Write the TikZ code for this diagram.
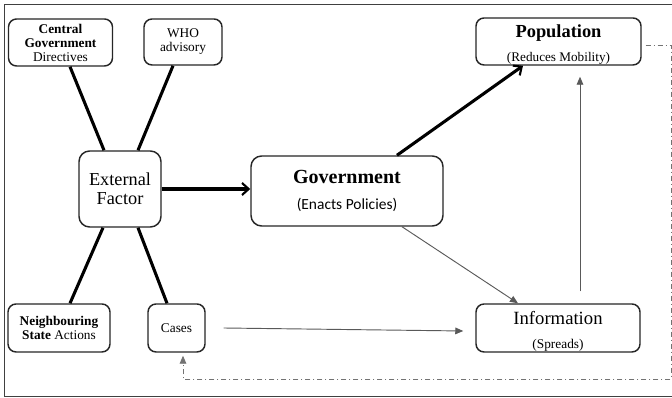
\documentclass[tikz,border=0pt]{standalone}
\usepackage{fontspec}
\setmainfont{Liberation Serif}
\newfontfamily\calib{Carlito}
\usetikzlibrary{arrows.meta,calc}
\begin{document}
\begin{tikzpicture}[x=0.75pt,y=-0.75pt,
  box/.style={draw=black!85,line width=1.1pt,rounded corners=6pt,align=center,inner sep=0pt,fill=white},
  spoke/.style={line width=2.3pt,black},
  bigarrow/.style={line width=2.3pt,black,-{Straight Barb[length=5pt,width=9pt,line width=1.6pt]}},
  thinarrow/.style={draw=black!65,line width=0.7pt,-{Triangle[length=6pt,width=5pt]}},
  fb/.style={draw=black!55,line width=0.7pt,dash pattern=on 4pt off 2pt on 1pt off 2pt,-{Triangle[length=6pt,width=5pt]}},
  small/.style={font=\fontsize{10}{10.5}\selectfont}
]
\useasboundingbox (0,0) rectangle (672,398);
\draw[black!75,line width=1.3pt] (674,4.5) -- (4.5,4.5) -- (4.5,396.5) -- (674,396.5);

\node[box,small,minimum width=104*0.75pt,minimum height=47*0.75pt] (cgd) at (60.5,42.5)
  {\textbf{Central}\\\textbf{Government}\\Directives};
\node[box,small,minimum width=78*0.75pt,minimum height=46*0.75pt] (who) at (183,42)
  {WHO\\advisory};
\node[box,minimum width=82*0.75pt,minimum height=76*0.75pt,rounded corners=8pt,
  font=\fontsize{13.7}{14.3}\selectfont] (ext) at (120,189) {External\\Factor};
\node[box,small,minimum width=102*0.75pt,minimum height=48*0.75pt] (nsa) at (59,328)
  {\textbf{Neighbouring}\\\textbf{State} Actions};
\node[box,small,minimum width=57*0.75pt,minimum height=48*0.75pt] (cases) at (176.5,328) {Cases};
\node[box,minimum width=192*0.75pt,minimum height=70*0.75pt,rounded corners=8pt,
  font=\fontsize{15}{20}\selectfont] (gov) at (347,191)
  {\textbf{Government}\\{\calib\fontsize{11.6}{20}\selectfont (Enacts Policies)}};
\node[box,minimum width=165*0.75pt,minimum height=47*0.75pt,
  font=\fontsize{13.8}{18}\selectfont] (pop) at (558.5,41.5)
  {\rule{0pt}{14pt}\textbf{Population}\\{\fontsize{9.9}{18}\selectfont (Reduces Mobility)}};
\node[box,minimum width=164*0.75pt,minimum height=48*0.75pt,
  font=\fontsize{14}{18}\selectfont] (info) at (558,328)
  {\rule{0pt}{14.2pt}Information\\{\fontsize{10}{18}\selectfont (Spreads)}};

% spokes
\draw[spoke] ($(cgd.south)+(9.5,0)$) -- ($(ext.north)+(-16,0)$);
\draw[spoke] ($(who.south)+(-10,0)$) -- ($(ext.north)+(18,0)$);
\draw[spoke] ($(nsa.north)+(11,0)$) -- ($(ext.south)+(-17,0)$);
\draw[spoke] ($(cases.north)+(-9.5,0)$) -- ($(ext.south)+(18,0)$);

% main arrows
\draw[bigarrow] (ext.east) -- (ext.east -| gov.west);
\draw[bigarrow] ($(gov.north)+(50,0)$) -- ($(pop.south)+(-35.5,0)$);
\draw[thinarrow] ($(gov.south)+(55,0)$) -- ($(info.north)+(-40,0)$);
\draw[thinarrow] ($(info.north)+(22,-12)$) -- ($(pop.south)+(21.5,11)$);
\draw[thinarrow] ($(cases.east)+(18,0)$) -- ($(info.west)+(-12,3)$);

% feedback
\coordinate (fbR) at (671,379);
\draw[fb] ($(pop.east)+(4,3.5)$) -| (fbR) -| ($(cases.south)+(6.5,3)$);
\end{tikzpicture}
\end{document}
